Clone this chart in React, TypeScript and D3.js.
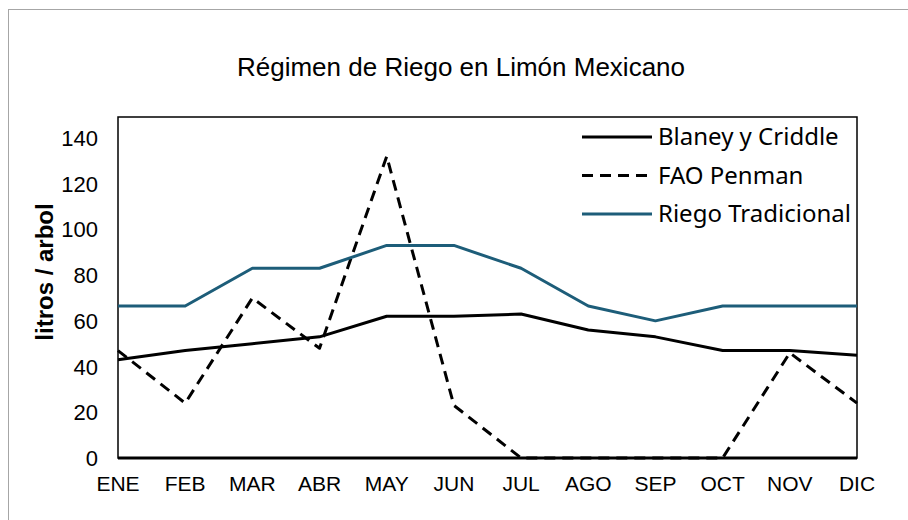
import React, { useRef, useEffect } from "react";
import * as d3 from "d3";

const months = ["ENE", "FEB", "MAR", "ABR", "MAY", "JUN", "JUL", "AGO", "SEP", "OCT", "NOV", "DIC"];
const blaney = [43, 47, 50, 53, 62, 62, 63, 56, 53, 47, 47, 45];
const fao = [47, 24, 70, 48, 132, 23, 0, 0, 0, 0, 46, 24];
const riego = [66.5, 66.5, 83, 83, 93, 93, 83, 66.5, 60, 66.5, 66.5, 66.5];
const yTicks = [0, 20, 40, 60, 80, 100, 120, 140];

const series = [
  { name: "Blaney y Criddle", values: blaney, color: "#000000", dash: null },
  { name: "FAO Penman", values: fao, color: "#000000", dash: "11,7" },
  { name: "Riego Tradicional", values: riego, color: "#1d5d79", dash: null },
];

export default function App() {
  const svgRef = useRef<SVGSVGElement>(null);

  useEffect(() => {
    const svg = d3.select(svgRef.current);
    svg.selectAll("*").remove();

    const left = 118, right = 857, top = 117, bottom = 458;
    const x = d3.scalePoint().domain(months).range([left, right]);
    const y = d3.scaleLinear().domain([0, 140]).range([bottom, 138]);

    // outer chart border
    svg.append("rect")
      .attr("x", 8.5).attr("y", 9.5).attr("width", 920).attr("height", 540)
      .attr("fill", "#fff").attr("stroke", "#a6a6a6").attr("stroke-width", 1);

    // title
    svg.append("text")
      .attr("x", 461).attr("y", 76)
      .attr("text-anchor", "middle")
      .attr("font-family", "Liberation Sans, Arial, sans-serif")
      .attr("font-size", 26)
      .text("Régimen de Riego en Limón Mexicano");

    // plot box
    svg.append("rect")
      .attr("x", left).attr("y", top).attr("width", right - left).attr("height", bottom - top)
      .attr("fill", "none").attr("stroke", "#000").attr("stroke-width", 1.5);

    // y tick labels
    svg.append("g")
      .selectAll("text")
      .data(yTicks)
      .join("text")
      .attr("x", 98).attr("y", d => y(d) + 8)
      .attr("text-anchor", "end")
      .attr("font-family", "Liberation Sans, Arial, sans-serif")
      .attr("font-size", 22)
      .text(d => d);

    // x tick labels
    svg.append("g")
      .selectAll("text")
      .data(months)
      .join("text")
      .attr("x", d => x(d)!).attr("y", 491)
      .attr("text-anchor", "middle")
      .attr("font-family", "Liberation Sans, Arial, sans-serif")
      .attr("font-size", 21)
      .text(d => d);

    // y axis title
    svg.append("text")
      .attr("transform", `translate(53, 272) rotate(-90)`)
      .attr("text-anchor", "middle")
      .attr("font-family", "Liberation Sans, Arial, sans-serif")
      .attr("font-size", 24)
      .attr("font-weight", "bold")
      .text("litros / arbol");

    // x axis line
    svg.append("line")
      .attr("x1", left).attr("x2", right).attr("y1", bottom).attr("y2", bottom)
      .attr("stroke", "#000").attr("stroke-width", 3);

    const line = d3.line<number>()
      .x((d, i) => x(months[i])!)
      .y(d => y(d));

    svg.append("g")
      .selectAll("path")
      .data(series)
      .join("path")
      .attr("d", s => line(s.values))
      .attr("fill", "none")
      .attr("stroke", s => s.color)
      .attr("stroke-width", 3)
      .attr("stroke-dasharray", s => s.dash)
      .attr("stroke-linejoin", "round");

    // legend
    const legend = svg.append("g")
      .selectAll("g")
      .data(series)
      .join("g")
      .attr("transform", (s, i) => `translate(582, ${137 + i * 38.5})`);

    legend.append("line")
      .attr("x1", 0).attr("x2", 70).attr("y1", 0).attr("y2", 0)
      .attr("stroke", s => s.color)
      .attr("stroke-width", 3)
      .attr("stroke-dasharray", s => s.dash);

    legend.append("text")
      .attr("x", 76).attr("y", 8)
      .attr("font-family", "Noto Sans, Open Sans, sans-serif")
      .attr("font-size", 24)
      .text(s => s.name);
  }, []);

  return (
    <div>
      <svg ref={svgRef} width={908} height={520}
        style={{ position: "absolute", left: 0, top: 0, display: "block", overflow: "hidden" }}></svg>
    </div>
  );
}
